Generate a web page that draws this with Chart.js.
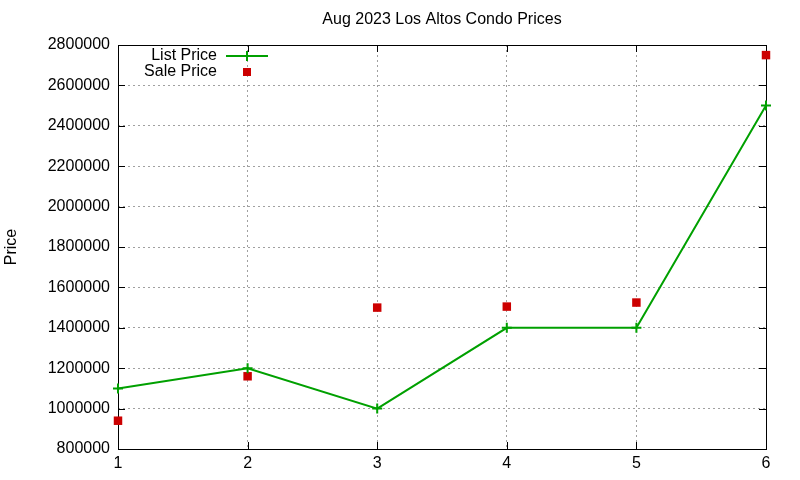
<!DOCTYPE html>
<html>
<head>
<meta charset="utf-8">
<script src="https://cdn.jsdelivr.net/npm/chart.js@4/dist/chart.umd.min.js"></script>
<style>
  html, body { margin: 0; padding: 0; background: #fff; }
  #wrap { width: 800px; height: 480px; }
</style>
</head>
<body>
<div id="wrap"><canvas id="c" width="800" height="480"></canvas></div>
<script>
// --- data ---
const units = [1, 2, 3, 4, 5, 6];
const listPrice = [1100000, 1200000, 1000000, 1400000, 1400000, 2500000];
const salePrice = [940000, 1160000, 1500000, 1505000, 1525000, 2750000];
const yTicks = [800000, 1000000, 1200000, 1400000, 1600000, 1800000,
                2000000, 2200000, 2400000, 2600000, 2800000];

const GREEN = '#00a000';
const RED = '#cc0000';
const FONT = "'Liberation Sans', Arial, sans-serif";

Chart.defaults.font.family = FONT;
Chart.defaults.color = '#000';

// gnuplot-style frame with inward ticks, plus the key in the top-left
const frame = {
    id: 'frame',
    beforeDatasetsDraw(chart) {
        const { ctx, chartArea: a, scales: { x, y } } = chart;
        ctx.save();
        ctx.strokeStyle = '#000';
        ctx.lineWidth = 1;
        ctx.beginPath();
        yTicks.forEach(v => {
            const py = Math.round(y.getPixelForValue(v)) + 0.5;
            ctx.moveTo(a.left, py); ctx.lineTo(a.left + 7, py);
            ctx.moveTo(a.right, py); ctx.lineTo(a.right - 7, py);
        });
        units.forEach(v => {
            const px = Math.round(x.getPixelForValue(v)) + 0.5;
            ctx.moveTo(px, a.bottom); ctx.lineTo(px, a.bottom - 7);
            ctx.moveTo(px, a.top); ctx.lineTo(px, a.top + 7);
        });
        ctx.stroke();
        ctx.strokeRect(Math.round(a.left) + 0.5, Math.round(a.top) + 0.5,
                       Math.round(a.right - a.left), Math.round(a.bottom - a.top));
        ctx.restore();
    },
    afterDatasetsDraw(chart) {
        const { ctx, chartArea: a } = chart;
        const tx = a.left + 99, sx = a.left + 129;
        ctx.save();
        ctx.font = '16px ' + FONT;
        ctx.fillStyle = '#000';
        ctx.textAlign = 'right';
        ctx.textBaseline = 'middle';
        ctx.fillText('List Price', tx, a.top + 11);
        ctx.fillText('Sale Price', tx, a.top + 27);
        // list price sample
        ctx.strokeStyle = GREEN;
        ctx.lineWidth = 2;
        ctx.beginPath();
        ctx.moveTo(sx - 21, a.top + 11); ctx.lineTo(sx + 21, a.top + 11);
        ctx.moveTo(sx, a.top + 6); ctx.lineTo(sx, a.top + 16);
        ctx.stroke();
        // sale price sample
        ctx.fillStyle = RED;
        ctx.fillRect(sx - 4, a.top + 23, 8, 8);
        ctx.restore();
    }
};

new Chart(document.getElementById('c'), {
    type: 'line',
    data: {
        datasets: [
            {
                label: 'List Price',
                data: units.map((u, i) => ({ x: u, y: listPrice[i] })),
                borderColor: GREEN,
                backgroundColor: GREEN,
                borderWidth: 2,
                pointStyle: 'cross',
                pointRadius: 5,
                pointBorderWidth: 2,
                tension: 0,
                clip: false,
            },
            {
                label: 'Sale Price',
                data: units.map((u, i) => ({ x: u, y: salePrice[i] })),
                showLine: false,
                borderColor: RED,
                backgroundColor: RED,
                pointStyle: 'rect',
                pointRadius: 6,
                pointBorderWidth: 0,
                clip: false,
            },
        ],
    },
    options: {
        responsive: false,
        animation: false,
        layout: { padding: { left: 0, right: 34, top: 0, bottom: 0 } },
        plugins: {
            legend: { display: false },
            tooltip: { enabled: false },
            title: {
                display: true,
                fullSize: false,
                text: 'Aug 2023 Los Altos Condo Prices',
                font: { size: 16, weight: 'normal', lineHeight: 1.2 },
                color: '#000',
                padding: { top: 10, bottom: 15.8 },
            },
        },
        scales: {
            x: {
                type: 'linear',
                min: 1, max: 6,
                afterFit: s => { s.height = 31; },
                afterBuildTicks: s => { s.ticks = units.map(v => ({ value: v })); },
                grid: { color: '#a0a0a0', tickLength: 0, lineWidth: 1 },
                border: { display: false, dash: [2, 3] },
                ticks: { font: { size: 16 }, padding: 5, color: '#000' },
            },
            y: {
                min: 800000, max: 2800000,
                afterFit: s => { s.width = 118; },
                afterBuildTicks: s => { s.ticks = yTicks.map(v => ({ value: v })); },
                grid: { color: '#a0a0a0', tickLength: 0, lineWidth: 1 },
                border: { display: false, dash: [2, 3] },
                ticks: { font: { size: 16 }, padding: 8, color: '#000', callback: v => String(v) },
                title: {
                    display: true, text: 'Price',
                    font: { size: 16 }, color: '#000',
                    padding: { top: 2, bottom: 0 },
                },
            },
        },
    },
    plugins: [frame],
});
</script>
</body>
</html>
